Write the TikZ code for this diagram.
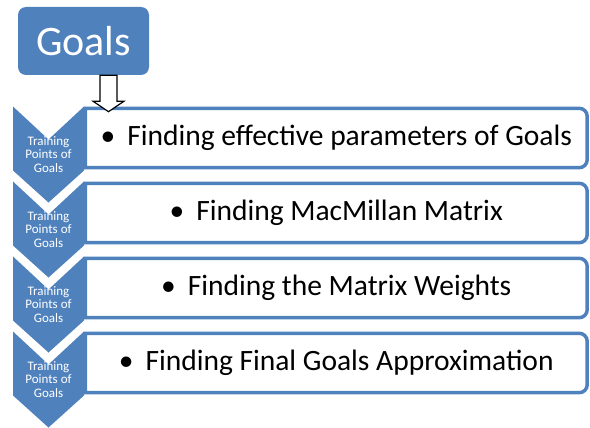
\documentclass[tikz,border=0pt]{standalone}
\usepackage{fontspec}
\setmainfont{Carlito}
\usetikzlibrary{positioning}
\definecolor{office}{RGB}{79,129,189}

\begin{document}
\begin{tikzpicture}[x=1pt,y=-1pt]
\tikzstyle{every node}=[font=\fontsize{29.5}{34}\selectfont]
\tikzstyle{chevron}=[fill=office]
\tikzstyle{chevtext}=[text=white,align=center,font=\fontsize{13}{13.3}\selectfont]
\tikzstyle{itembox}=[minimum width=501.5pt,minimum height=59pt,inner sep=0pt]
\tikzstyle{itemline}=[draw=office,line width=3.5pt]
\tikzstyle{hollow}=[draw=black,fill=white,line width=1.2pt,line join=miter]
\useasboundingbox (0,0) rectangle (590,428);
\node[fill=office,rounded corners=8pt,minimum width=131pt,minimum height=68pt,text=white,font=\fontsize{42}{50}\selectfont] (goals) at (83.5,41) {Goals};
\foreach \i/\t/\txt in {1/106.5/Finding effective parameters of Goals,
                        2/181.5/Finding MacMillan Matrix,
                        3/256.5/Finding the Matrix Weights,
                        4/331.5/Finding Final Goals Approximation}{
  \node[itembox] (item\i) at (336.25,\t+31.5) {\textbullet\hspace{12pt}\txt};
  \draw[itemline] (item\i.north west) -- ([xshift=-8pt]item\i.north east)
    arc[start angle=90,end angle=0,radius=8pt] -- ([yshift=8pt]item\i.south east)
    arc[start angle=0,end angle=-90,radius=8pt] -- (item\i.south west) -- cycle;
  \fill[chevron] (13,\t) -- (48.5,\t+33) -- (84,\t) -- (84,\t+64) -- (48.5,\t+96) -- (13,\t+64) -- cycle;
  \node[chevtext] (lab\i) at (48.5,\t+48) {Training\\Points of\\Goals};
}
\draw[hollow] ([xshift=16.5pt]goals.south) -- ++(0,26) -- ++(-7,0) -- ++(15.5,10.5) -- ++(15.5,-10.5) -- ++(-7,0) -- ++(0,-26) -- cycle;
\end{tikzpicture}
\end{document}
